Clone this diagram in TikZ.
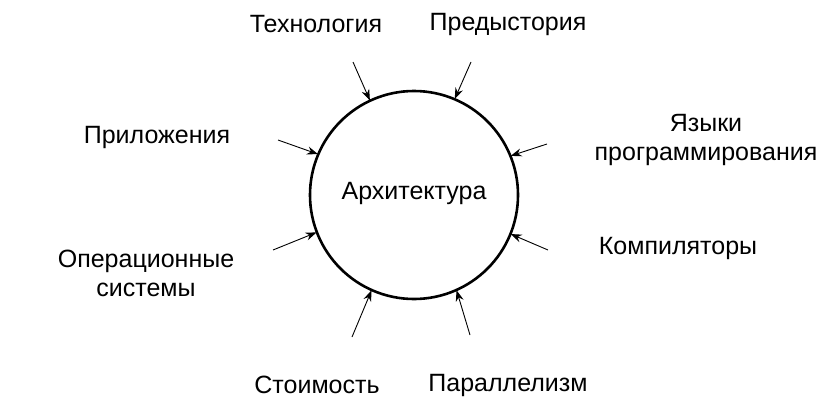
\documentclass[tikz,border=0pt]{standalone}
\usepackage{fontspec}
\setmainfont{Liberation Sans}
\usetikzlibrary{arrows.meta}
\tikzset{
    % A stealth tip sized for the thin feed lines
    >={Stealth[length=11pt, width=8pt]},
%
    % The big circle in the middle
    core circle/.style={
        draw, line width=2.6pt, circle, minimum size=208pt, inner sep=0},
%
    % Thin lines pointing in at the circle
    feed/.style={->, line width=0.9pt, shorten >=-1pt},
%
    % Plain text around the circle
    topic/.style={align=center, inner sep=0, font=\fontsize{25}{29}\selectfont}}

\begin{document}
\begin{tikzpicture}[x=1pt, y=-1pt]
\useasboundingbox (0,0) rectangle (840,418);

% Centre
\node [core circle] (arch) at (414,195) {};
\node [topic] (arch text) at (414,193) {Архитектура};

% Labels round the circle
\node [topic] (tech) at (316,24) {Технология};
\node [topic] (prehist) at (508,24) {Предыстория};
\node [topic] (apps) at (157,137) {Приложения};
\node [topic] (langs) at (706,140) {Языки\\программирования};
\node [topic] (os) at (146,273) {Операционные\\системы};
\node [topic] (comp) at (678,248) {Компиляторы};
\node [topic] (cost) at (317,385) {Стоимость};
\node [topic] (para) at (508,385) {Параллелизм};

% Free ends of the feed lines
\coordinate (tech tail) at (353,62);
\coordinate (prehist tail) at (471,62);
\coordinate (apps tail) at (278,140);
\coordinate (langs tail) at (547,144);
\coordinate (os tail) at (273,250);
\coordinate (comp tail) at (548,250);
\coordinate (cost tail) at (352,337);
\coordinate (para tail) at (470,335);

\draw [feed] (tech tail) -- (arch.115);
\draw [feed] (prehist tail) -- (arch.67);
\draw [feed] (apps tail) -- (arch.157);
\draw [feed] (langs tail) -- (arch.22);
\draw [feed] (os tail) -- (arch.201);
\draw [feed] (comp tail) -- (arch.338);
\draw [feed] (cost tail) -- (arch.246);
\draw [feed] (para tail) -- (arch.294);

\end{tikzpicture}
\end{document}
